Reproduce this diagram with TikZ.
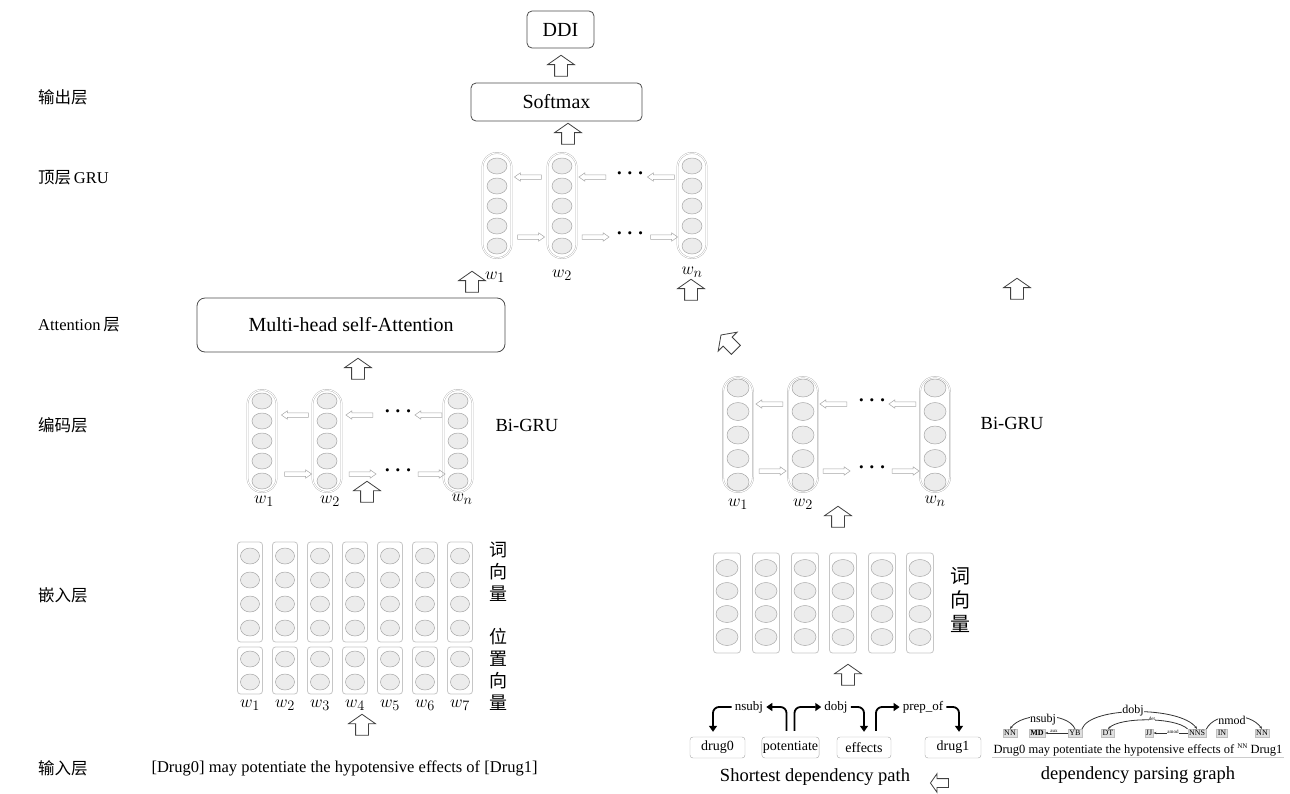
\documentclass[tikz,border=0pt]{standalone}
\usepackage{fontspec}
\setmainfont{Liberation Serif}
\newfontfamily\cjk{Noto Sans CJK SC}
\usetikzlibrary{arrows.meta,positioning,shapes.geometric,shapes.arrows}

\begin{document}
\begin{tikzpicture}[x=1pt, y=-1pt,
  lyr/.style={anchor=west, inner sep=0pt, font=\fontsize{16.5}{18}\selectfont},
  box/.style={rectangle, draw=black!70, line width=0.8pt, rounded corners=5pt,
              font=\fontsize{20}{22}\selectfont},
  grucol/.style={rectangle, draw=gray!60, double=white, double distance=1pt,
                 line width=0.4pt, rounded corners=14pt, minimum width=29pt, inner sep=0pt},
  cell/.style={ellipse, draw=gray!70, fill=gray!15, line width=0.5pt,
               minimum width=20pt, minimum height=16pt, inner sep=0pt},
  embcol/.style={rectangle, draw=gray!45, line width=0.8pt, rounded corners=3pt,
                 minimum width=25pt, inner sep=0pt},
  ecell/.style={ellipse, draw=gray!70, fill=gray!15, line width=0.5pt,
                minimum width=19pt, minimum height=16pt, inner sep=0pt},
  harr/.style={single arrow, draw=black!75, line width=0.8pt, fill=white,
               minimum height=21pt, inner sep=6pt, single arrow head extend=7pt,
               single arrow tip angle=110, shape border rotate=90},
  tarr/.style={single arrow, draw=gray!70, line width=0.5pt, minimum height=27pt,
               inner sep=2pt, single arrow head extend=2pt,
               single arrow tip angle=70},
  wlab/.style={font=\fontsize{19}{20}\selectfont},
  ellip/.style={font=\fontsize{20}{20}\selectfont\boldmath},
  dep/.style={rectangle, draw=gray!70, rounded corners=3pt, minimum height=21pt,
              inner sep=1pt, font=\fontsize{14}{16}\selectfont},
  rel/.style={font=\fontsize{13}{15}\selectfont, inner sep=3pt},
  deparr/.style={-{Triangle[length=6pt, width=8pt]}, line width=1.8pt, rounded corners=6pt},
  tag/.style={rectangle, fill=gray!25, draw=gray!50, inner sep=1.2pt,
              font=\fontsize{8}{9}\selectfont},
  parc/.style={-{Stealth[length=3pt]}, gray!40!black, line width=0.8pt},
  plab/.style={fill=white, inner sep=0.5pt, font=\fontsize{12}{13}\selectfont},
  tlab/.style={fill=white, inner sep=0.3pt, font=\fontsize{5}{6}\selectfont},
  captxt/.style={font=\fontsize{18.5}{20}\selectfont},
]
\useasboundingbox (0,0) rectangle (1290,793);

% Layer names
\node[lyr] (l6) at (38,97) {\cjk 输出层};
\node[lyr] (l5) at (38,178) {{\cjk 顶层}\,GRU};
\node[lyr] (l4) at (38,325) {Attention\,{\cjk 层}};
\node[lyr] (l3) at (38,425) {\cjk 编码层};
\node[lyr] (l2) at (38,595) {\cjk 嵌入层};
\node[lyr] (l1) at (38,768) {\cjk 输入层};

% Output
\node[box, minimum width=67pt, minimum height=37pt] (ddi) at (560.5,29.5) {DDI};
\node[box, minimum width=171pt, minimum height=38pt] (softmax) at (556.5,102) {Softmax};
\node[harr] (up1) at (561,68) {};
\node[harr] (up2) at (568,136) {};

% Top GRU
\foreach \nm/\x in {t1/497, t2/562, tn/692} {
  \node[grucol, minimum height=105pt] (\nm) at (\x,205.5) {};
  \foreach \k/\y in {1/166,2/186,3/206,4/226,5/246}
    \node[cell] (\nm-\k) at (\x,\y) {};
}
\foreach \i/\x in {1/529.5, 2/594, 3/662.5} {
  \node[tarr, shape border rotate=180] (tb\i) at (\x,177) {};
  \node[tarr] (tf\i) at (\x,237) {};
}
\node[ellip] (tdot1) at (630,174) {$\cdots$};
\node[ellip] (tdot2) at (630,234) {$\cdots$};
\node[wlab] (tw1) at (495,277) {$w_1$};
\node[wlab] (tw2) at (562,275) {$w_2$};
\node[wlab] (twn) at (692,272) {$w_n$};

\node[harr] (up3) at (472,284) {};
\node[harr] (up4) at (691,292) {};
\node[harr] (up5) at (1017,291) {};
\node[harr, rotate=45] (up6) at (730,344) {};

% Attention
\node[box, minimum width=308pt, minimum height=54pt, rounded corners=8pt] (mha) at (351,325)
  {Multi-head self-Attention};
\node[harr] (up7) at (358,371) {};

% Left Bi-GRU
\foreach \nm/\x in {e1/262, e2/327, en/458} {
  \node[grucol, minimum height=102pt] (\nm) at (\x,441) {};
  \foreach \k/\y in {1/401,2/421,3/441,4/461,5/481}
    \node[cell] (\nm-\k) at (\x,\y) {};
}
\foreach \i/\x in {1/296.5, 2/361, 3/430} {
  \node[tarr, shape border rotate=180] (eb\i) at (\x,415) {};
  \node[tarr] (ef\i) at (\x,474) {};
}
\node[ellip] (edot1) at (398,412) {$\cdots$};
\node[ellip] (edot2) at (398,471) {$\cdots$};
\node[wlab] (ew1) at (264,501) {$w_1$};
\node[wlab] (ew2) at (330,501) {$w_2$};
\node[wlab] (ewn) at (462,499) {$w_n$};
\node[captxt] (lbigru) at (527,425) {Bi-GRU};
\node[harr] (up8) at (367,494) {};

% Right Bi-GRU
\foreach \nm/\x in {r1/738, r2/803, rn/935} {
  \node[grucol, minimum height=115pt, minimum width=30pt, rounded corners=15pt] (\nm) at (\x,434.5) {};
  \foreach \k/\y in {1/388,2/411.5,3/435,4/458.5,5/482}
    \node[cell, minimum width=22pt, minimum height=18pt] (\nm-\k) at (\x,\y) {};
}
\foreach \i/\x in {1/771, 2/835, 3/904} {
  \node[tarr, shape border rotate=180] (rb\i) at (\x,404) {};
  \node[tarr] (rf\i) at (\x,471) {};
}
\node[ellip] (rdot1) at (872,401) {$\cdots$};
\node[ellip] (rdot2) at (872,468) {$\cdots$};
\node[wlab] (rw1) at (738,504) {$w_1$};
\node[wlab] (rw2) at (803,504) {$w_2$};
\node[wlab] (rwn) at (935,501) {$w_n$};
\node[captxt] (rbigru) at (1012,423) {Bi-GRU};
\node[harr] (up10) at (838,519) {};

% Left embedding
\foreach \i in {1,...,7} {
  \pgfmathsetmacro\x{215+35*\i}
  \node[embcol, minimum height=100pt] (wv\i) at (\x,592) {};
  \foreach \k/\y in {1/556,2/580,3/604,4/628}
    \node[ecell] (wv\i-\k) at (\x,\y) {};
  \node[embcol, minimum height=47pt] (pv\i) at (\x,670.5) {};
  \foreach \k/\y in {1/659,2/682}
    \node[ecell] (pv\i-\k) at (\x,\y) {};
  \node[wlab] (lw\i) at (\x,705) {$w_{\i}$};
}
\node[align=center, inner sep=0pt, font=\fontsize{18}{22}\selectfont\cjk] (wvtxt) at (498,572) {词\\向\\量};
\node[align=center, inner sep=0pt, font=\fontsize{18}{22}\selectfont\cjk] (pvtxt) at (498,669) {位\\置\\向\\量};
\node[harr] (up9) at (362,727) {};
\node[lyr, anchor=center, font=\fontsize{16.5}{18}\selectfont] (sent) at (344.5,768)
  {[Drug0] may potentiate the hypotensive effects of [Drug1]};

% Right embedding
\foreach \i/\x in {1/727,2/766,3/805,4/843,5/882,6/920} {
  \node[embcol, minimum width=27pt, minimum height=100pt] (sv\i) at (\x,603) {};
  \foreach \k/\y in {1/568,2/591,3/614,4/637}
    \node[ecell, minimum width=22pt, minimum height=17pt] (sv\i-\k) at (\x,\y) {};
}
\node[align=center, inner sep=0pt, font=\fontsize{20}{24}\selectfont\cjk] (svtxt) at (960,600) {词\\向\\量};
\node[harr] (up11) at (848,677) {};

% Shortest dependency path
\node[dep, minimum width=55pt] (drug0) at (717.5,747.5) {drug0};
\node[dep, minimum width=56pt] (pot) at (790.5,747.5) {potentiate};
\node[dep, minimum width=54pt] (effects) at (864,747.5) {effects};
\node[dep, minimum width=56pt] (drug1) at (953,747.5) {drug1};
\node[rel] (nsubj) at (749,707) {nsubj};
\node[rel] (dobj) at (836,707) {dobj};
\node[rel] (prepof) at (923,707) {prep\_of};

\draw[deparr, shorten >=5pt] (nsubj.west) -| ([xshift=-4.5pt]drug0.north);
\draw[deparr, shorten <=6pt] ([xshift=-4pt]pot.north) |- (nsubj.east);
\draw[deparr, shorten <=6pt] ([xshift=4pt]pot.north) |- (dobj.west);
\draw[deparr, shorten >=5pt] (dobj.east) -| (effects.north);
\draw[deparr, shorten <=6pt] ([xshift=12pt]effects.north) |- (prepof.west);
\draw[deparr, shorten >=5pt] (prepof.east) -| ([xshift=6pt]drug1.north);

\node[captxt] (sdp) at (815,777) {Shortest dependency path};
\node[harr, shape border rotate=180, minimum height=18pt, inner sep=4pt,
      single arrow head extend=5pt] (lt) at (941,783) {};

% Dependency parsing graph
\node[tag] (pNN0) at (1010,733) {NN};
\node[tag, font=\fontsize{8}{9}\selectfont\bfseries] (pMD) at (1037,733) {MD};
\node[tag] (pYB) at (1075,733) {YB};
\node[tag] (pDT) at (1108,733) {DT};
\node[tag] (pJJ) at (1149,733) {JJ};
\node[tag] (pNNS) at (1197,733) {NNS};
\node[tag] (pIN) at (1222,733) {IN};
\node[tag] (pNN1) at (1262,733) {NN};
\node[inner sep=1pt, font=\fontsize{12.5}{14}\selectfont] (psent) at (1138,750)
  {Drug0 may potentiate the hypotensive effects of \raisebox{5pt}{\fontsize{7}{8}\selectfont NN} Drug1};
\draw[gray!40, line width=1pt] (psent.south west) -- (psent.south east);

\draw[parc] (pYB.north) .. controls (1068,712) and (1022,712) .. (pNN0.north);
\draw[parc] (pYB.north east) .. controls (1090,706) and (1180,706) .. (pNNS.north);
\draw[parc] (pNNS.north west) .. controls (1175,717) and (1120,717) .. (pDT.north);
\draw[parc] (pNNS.west) -- (pJJ.east);
\draw[parc] (pNNS.north east) .. controls (1215,712) and (1250,712) .. (pNN1.north);
\draw[parc] (pYB.west) -- (pMD.east);
\node[plab] (lnsubj) at (1043,720) {nsubj};
\node[plab] (ldobj) at (1133,711) {dobj};
\node[tlab] (ldet) at (1152,719) {det};
\node[tlab] (lamod) at (1173,732) {amod};
\node[tlab] (laux) at (1054,731) {aux};
\node[plab] (lnmod) at (1232,720) {nmod};

\node[captxt] (dpg) at (1138,775) {dependency parsing graph};

\end{tikzpicture}
\end{document}
